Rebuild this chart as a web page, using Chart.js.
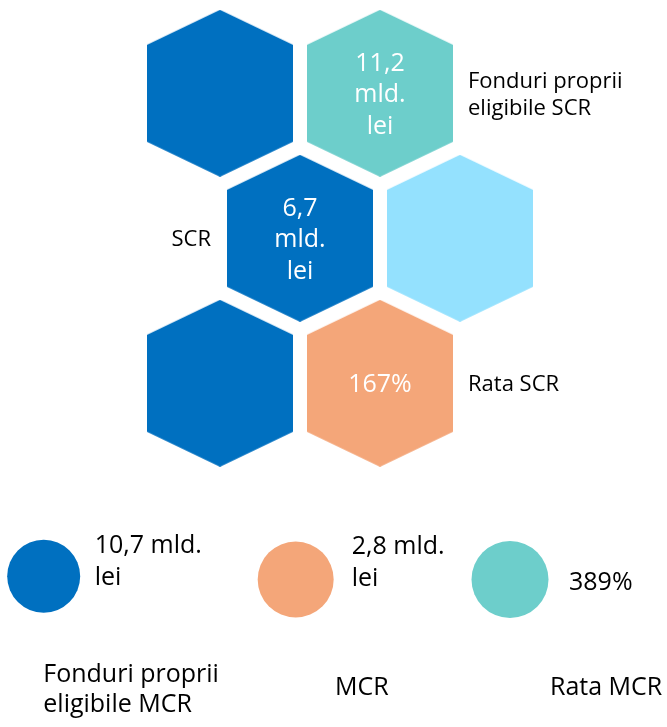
<!DOCTYPE html>
<html>
<head>
<meta charset="utf-8">
<script src="https://cdn.jsdelivr.net/npm/chart.js@4/dist/chart.umd.min.js"></script>
<style>
  html, body { margin: 0; padding: 0; background: #fff; }
  #wrap { width: 667px; height: 727px; }
</style>
</head>
<body>
<div id="wrap"><canvas id="chart"></canvas></div>
<script>
// --- data: SCR honeycomb ---
const hexValues = [[], ['11,2', 'mld.', 'lei'], ['6,7', 'mld.', 'lei'], [], [], ['167%']];
const hexNames = [[], ['Fonduri proprii', 'eligibile SCR'], ['SCR'], [], [], ['Rata SCR']];
const hexColors = ['#0070C0', '#6DCECB', '#0070C0', '#94E1FE', '#0070C0', '#F4A679'];

// --- data: MCR circles ---
const mcrValues = [['10,7 mld.', 'lei'], ['2,8 mld.', 'lei'], ['389%']];
const mcrNames = [['Fonduri proprii', 'eligibile MCR'], ['MCR'], ['Rata MCR']];
const mcrColors = ['#0070C0', '#F4A679', '#6DCECB'];

// --- layout (grid units: 1 x = one hex column, 1 y = one hex row) ---
const hexCols = [0, 1, 0.5, 1.5, 0, 1];
const hexRows = [0, 0, 1, 1, 2, 2];
const hexNameSide = ['', 'right', 'left', '', '', 'right'];
const circCols = [-1.102, 0.473, 1.8125];
const circRows = [3.331, 3.353, 3.353];
const circRadius = [36.5, 38, 38.5];
const circValueDx = [51, 56, 59];
const circValueDy = [-16, -18.4, 1.6];
const circNameDx = [-0.4, 39.3, 40];
const circNameDy = [111.5, 106.6, 106.6];

const COL_PX = 160, ROW_PX = 145, ORIGIN_X = 220, ORIGIN_Y = 93.3;
const W = 667, H = 727;
const FONT = '"Open Sans", "Noto Sans", sans-serif';

function makeHex(color) {
  const w = 146, h = 167, s = 35;
  const c = document.createElement('canvas');
  c.width = w;
  c.height = h;
  const ctx = c.getContext('2d');
  ctx.fillStyle = color;
  ctx.beginPath();
  ctx.moveTo(w / 2, 0);
  ctx.lineTo(w, s);
  ctx.lineTo(w, h - s);
  ctx.lineTo(w / 2, h);
  ctx.lineTo(0, h - s);
  ctx.lineTo(0, s);
  ctx.closePath();
  ctx.fill();
  return c;
}

// draw a block of lines centred vertically on yMid
function drawLines(ctx, lines, x, yMid, size, lh, align, color) {
  ctx.save();
  ctx.font = size + 'px ' + FONT;
  ctx.fillStyle = color;
  ctx.textAlign = align;
  ctx.textBaseline = 'alphabetic';
  const n = lines.length;
  lines.forEach((line, i) => {
    const y = yMid + (i - (n - 1) / 2) * lh + 0.357 * size;
    ctx.fillText(line, x, y);
  });
  ctx.restore();
}

const textPlugin = {
  id: 'infoText',
  afterDatasetsDraw(chart) {
    const ctx = chart.ctx;
    const xs = chart.scales.x, ys = chart.scales.y;

    hexCols.forEach((col, i) => {
      const cx = xs.getPixelForValue(col);
      const cy = ys.getPixelForValue(hexRows[i]);
      if (hexValues[i].length) {
        drawLines(ctx, hexValues[i], cx, cy, 25, 31.7, 'center', '#ffffff');
      }
      if (hexNames[i].length) {
        if (hexNameSide[i] === 'right') {
          drawLines(ctx, hexNames[i], cx + 88, cy, 22, 27.3, 'left', '#000000');
        } else {
          drawLines(ctx, hexNames[i], cx - 89, cy, 22, 27.3, 'right', '#000000');
        }
      }
    });

    circCols.forEach((col, i) => {
      const cx = xs.getPixelForValue(col);
      const cy = ys.getPixelForValue(circRows[i]);
      drawLines(ctx, mcrValues[i], cx + circValueDx[i], cy + circValueDy[i], 25, 31.7, 'left', '#000000');
      drawLines(ctx, mcrNames[i], cx + circNameDx[i], cy + circNameDy[i], 25, 30, 'left', '#000000');
    });
  }
};

new Chart(document.getElementById('chart'), {
  type: 'scatter',
  data: {
    datasets: [
      {
        label: 'SCR',
        data: hexCols.map((c, i) => ({ x: c, y: hexRows[i] })),
        pointStyle: hexColors.map(makeHex),
        pointRadius: 73,
        pointHoverRadius: 73,
        clip: false
      },
      {
        label: 'MCR',
        data: circCols.map((c, i) => ({ x: c, y: circRows[i] })),
        pointStyle: 'circle',
        pointRadius: circRadius,
        pointHoverRadius: circRadius,
        backgroundColor: mcrColors,
        borderWidth: 0,
        clip: false
      }
    ]
  },
  options: {
    responsive: true,
    maintainAspectRatio: false,
    animation: false,
    events: [],
    layout: { padding: 0, autoPadding: false },
    plugins: {
      legend: { display: false },
      tooltip: { enabled: false }
    },
    scales: {
      x: {
        type: 'linear',
        display: false,
        min: -ORIGIN_X / COL_PX,
        max: (W - ORIGIN_X) / COL_PX
      },
      y: {
        type: 'linear',
        display: false,
        reverse: true,
        min: -ORIGIN_Y / ROW_PX,
        max: (H - ORIGIN_Y) / ROW_PX
      }
    }
  },
  plugins: [textPlugin]
});
</script>
</body>
</html>
